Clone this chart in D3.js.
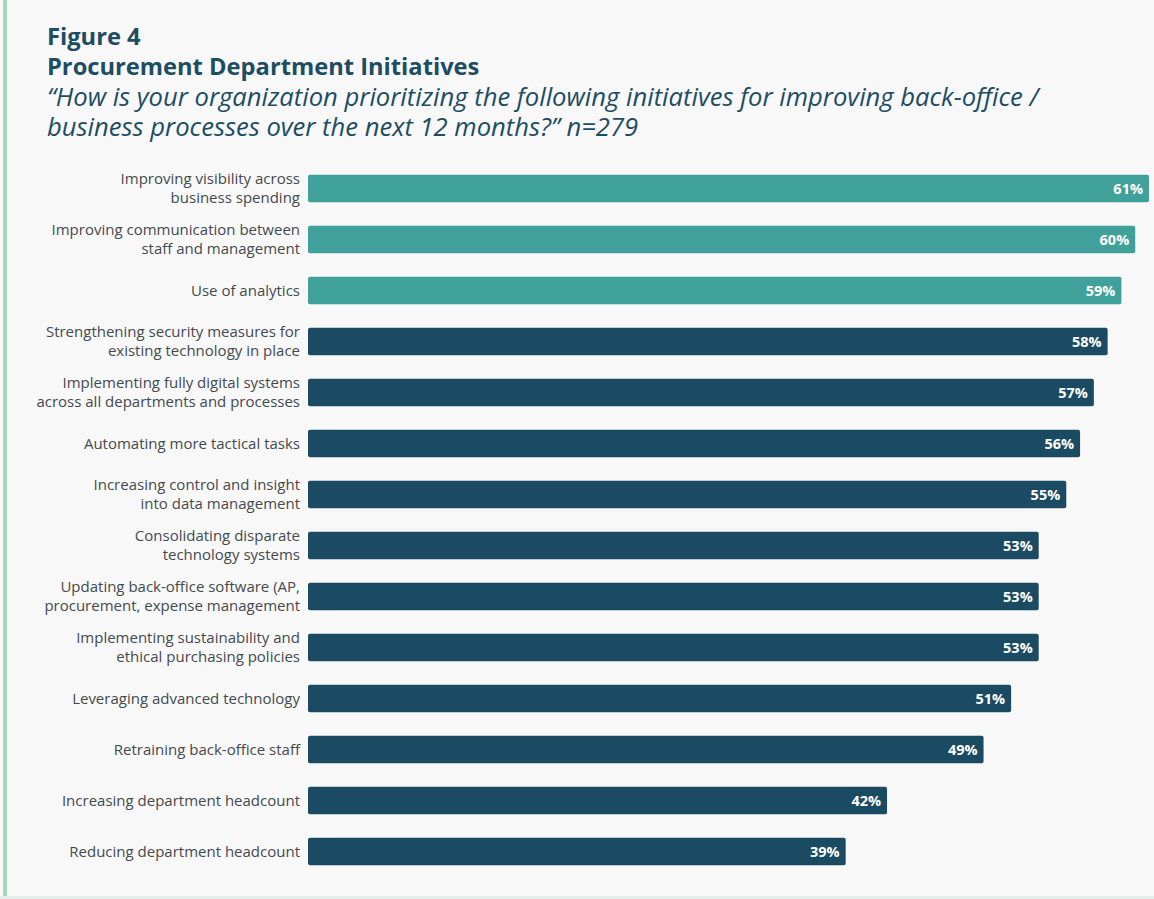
<!DOCTYPE html>
<html>
<head>
<meta charset="utf-8">
<script src="https://cdn.jsdelivr.net/npm/d3@7"></script>
<style>
  html, body { margin: 0; padding: 0; background: #f8f8f8; }
  svg { display: block; }
</style>
</head>
<body>
<svg id="chart" width="1154" height="899"></svg>
<script>
// Survey initiatives, top to bottom
const categories = [
  ["Improving visibility across", "business spending"],
  ["Improving communication between", "staff and management"],
  ["Use of analytics"],
  ["Strengthening security measures for", "existing technology in place"],
  ["Implementing fully digital systems", "across all departments and processes"],
  ["Automating more tactical tasks"],
  ["Increasing control and insight", "into data management"],
  ["Consolidating disparate", "technology systems"],
  ["Updating back-office software (AP,", "procurement, expense management"],
  ["Implementing sustainability and", "ethical purchasing policies"],
  ["Leveraging advanced technology"],
  ["Retraining back-office staff"],
  ["Increasing department headcount"],
  ["Reducing department headcount"]
];
const values = [61, 60, 59, 58, 57, 56, 55, 53, 53, 53, 51, 49, 42, 39];
const highlighted = [true, true, true, false, false, false, false, false, false, false, false, false, false, false];

const titleLines = ["Figure 4", "Procurement Department Initiatives"];
const subtitleLines = [
  "\u201CHow is your organization prioritizing the following initiatives for improving back-office /",
  "business processes over the next 12 months?\u201D n=279"
];

const svg = d3.select("#chart");
const W = 1154, H = 899;
const font = "'Open Sans', Lato, sans-serif";

// frame: left accent rule and bottom hairline
svg.append("rect").attr("x", 3).attr("y", 0).attr("width", 4).attr("height", H).attr("fill", "#a9d6c3");
svg.append("rect").attr("x", 0).attr("y", 896).attr("width", W).attr("height", 3).attr("fill", "#e6eeec");

// headings
const titleColor = "#1c4d63";
const title = svg.append("text")
  .attr("font-family", font).attr("font-weight", 700).attr("font-size", 23.7).attr("fill", titleColor);
titleLines.forEach((line, k) => {
  title.append("tspan").attr("x", 47).attr("y", 45 + k * 30).text(line);
});

const subtitle = svg.append("text")
  .attr("font-family", font).attr("font-style", "italic").attr("font-size", 25.6).attr("fill", titleColor);
subtitleLines.forEach((line, k) => {
  subtitle.append("tspan").attr("x", 47).attr("y", 106 + k * 30).text(line);
});

// scales
const x0 = 308;
const x = d3.scaleLinear().domain([0, 61]).range([x0, 1149]);
const y = d3.scaleBand()
  .domain(d3.range(values.length))
  .range([163, 877])
  .paddingInner(0.46)
  .paddingOuter(0.23);

const g = svg.append("g");

g.selectAll("rect.bar")
  .data(values)
  .join("rect")
  .attr("class", "bar")
  .attr("x", x(0))
  .attr("y", (d, i) => y(i))
  .attr("width", d => x(d) - x(0))
  .attr("height", y.bandwidth())
  .attr("rx", 2)
  .attr("fill", (d, i) => highlighted[i] ? "#3fa199" : "#1b4b62");

g.selectAll("text.val")
  .data(values)
  .join("text")
  .attr("class", "val")
  .attr("x", d => x(d) - 6)
  .attr("y", (d, i) => y(i) + y.bandwidth() / 2)
  .attr("dy", "0.36em")
  .attr("text-anchor", "end")
  .attr("font-family", font)
  .attr("font-weight", 700)
  .attr("font-size", 14.5)
  .attr("fill", "#ffffff")
  .text(d => d + "%");

// category labels, right aligned against the bars
const labels = g.selectAll("text.cat")
  .data(categories)
  .join("text")
  .attr("class", "cat")
  .attr("text-anchor", "end")
  .attr("font-family", font)
  .attr("font-size", 15)
  .attr("fill", "#444a4e")
  .attr("transform", (d, i) => `translate(${x0 - 8},${y(i) + y.bandwidth() / 2})`);

labels.each(function(lines) {
  const t = d3.select(this);
  const lh = 19;
  const start = -(lines.length - 1) * lh / 2;
  lines.forEach((line, k) => {
    t.append("tspan").attr("x", 0).attr("y", start + k * lh).attr("dy", "0.35em").text(line);
  });
});
</script>
</body>
</html>
